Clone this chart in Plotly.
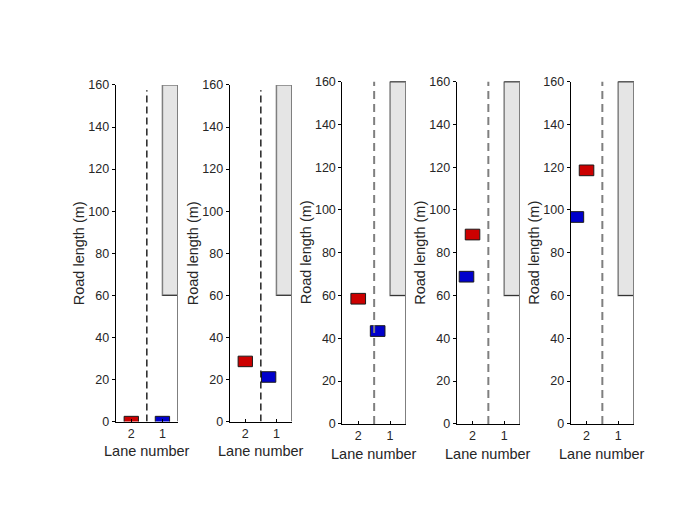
import plotly.graph_objects as go

# snapshots of the two cars, one panel per time step
red_lane = [2, 2, 2, 2, 2]
red_pos = [0, 28.6, 58.5, 88.5, 118.5]
blue_lane = [1, 1.25, 1.39, 2.19, 2.32]
blue_pos = [0, 21.2, 43.4, 68.8, 96.7]

lane_ticks = [2, 1]
lane_labels = ['2', '1']
road_ticks = [0, 20, 40, 60, 80, 100, 120, 140, 160]
block_start = 60
block_end = 160

car_w = 0.46
car_h = 5.0

W, H = 700, 525
# axes boxes in screen pixels: left, right, top, bottom
boxes = [(115.7, 178, 85.7, 421),
         (229.7, 292, 85.7, 421),
         (342.3, 406, 82.3, 423.3),
         (456.7, 520, 82.3, 423.3),
         (570.7, 634, 82.3, 423.3)]

# the page puts the figure a bit off the window origin, undo that
OFF_X, OFF_Y, SCALE_Y = 8.0, 16.0, 509.0 / 525.0


def px(x):
    return (x - OFF_X) / W


def py(y):
    return 1 - ((y - OFF_Y) / SCALE_Y) / H


txt = '#262626'
font = 'Liberation Sans, Arial, sans-serif'

fig = go.Figure()
shapes = []
annots = []

for k in range(5):
    n = '' if k == 0 else str(k + 1)
    xa, ya = 'x' + n, 'y' + n
    l, r, t, b = boxes[k]

    fig.update_layout({
        'xaxis' + n: dict(domain=[px(l), px(r)], range=[2.5, 0.5], anchor=ya,
                          tickvals=lane_ticks, ticktext=lane_labels,
                          showline=True, linecolor='black', linewidth=1,
                          ticks='inside', ticklen=3, tickcolor='black',
                          showgrid=False, zeroline=False, fixedrange=True,
                          tickfont=dict(size=12.5, color=txt, family=font)),
        'yaxis' + n: dict(domain=[py(b), py(t)], range=[0, 160], anchor=xa,
                          tickvals=road_ticks,
                          showline=True, linecolor='black', linewidth=1,
                          ticks='outside', ticklen=3, tickcolor='black',
                          showgrid=False, zeroline=False, fixedrange=True,
                          tickfont=dict(size=12.5, color=txt, family=font)),
    })

    # blocked part of lane 1
    shapes.append(dict(type='rect', xref=xa, yref=ya, x0=1, x1=0.5,
                       y0=block_start, y1=block_end, fillcolor='#e5e5e5',
                       line=dict(color='#7f7f7f', width=1.5), layer='below'))
    shapes.append(dict(type='line', xref=xa, yref=ya, x0=1, x1=0.5,
                       y0=block_start, y1=block_start, line=dict(color='#333333', width=1)))
    if k >= 2:
        shapes.append(dict(type='line', xref=xa, yref=ya, x0=1, x1=0.5,
                           y0=block_end, y1=block_end, line=dict(color='black', width=1.2)))
    # road edge
    shapes.append(dict(type='line', xref=xa, yref=ya, x0=0.5, x1=0.5, y0=0, y1=160,
                       line=dict(color='#7f7f7f', width=2)))
    # lane divider
    if k < 2:
        shapes.append(dict(type='line', xref=xa, yref=ya, x0=1.5, x1=1.5, y0=0, y1=157.5,
                           line=dict(color='black', width=1.3, dash='7px,4px')))
    else:
        shapes.append(dict(type='line', xref=xa, yref=ya, x0=1.5, x1=1.5, y0=0, y1=160,
                           line=dict(color='#7f7f7f', width=2, dash='8px,5px')))

    for lane, pos, col in [(red_lane[k], red_pos[k], '#cc0000'),
                           (blue_lane[k], blue_pos[k], '#0000cc')]:
        x0, x1 = lane - car_w / 2, lane + car_w / 2
        y0, y1 = pos - car_h / 2, pos + car_h / 2
        fig.add_trace(go.Scatter(x=[x0, x1, x1, x0, x0], y=[y0, y0, y1, y1, y0],
                                 xaxis=xa, yaxis=ya, mode='lines', fill='toself',
                                 fillcolor=col, line=dict(color='#1a1a1a', width=1),
                                 hoverinfo='skip', showlegend=False))

    annots.append(dict(text='Road length (m)', xref='paper', yref='paper',
                       x=px(l - 36.7), y=py((t + b) / 2), textangle=-90,
                       showarrow=False, xanchor='center', yanchor='middle',
                       font=dict(size=14.5, color=txt, family=font)))
    annots.append(dict(text='Lane number', xref='paper', yref='paper',
                       x=px((l + r) / 2), y=py(b + 29.5),
                       showarrow=False, xanchor='center', yanchor='middle',
                       font=dict(size=14.5, color=txt, family=font)))

fig.update_layout(width=W, height=H, margin=dict(l=0, r=0, t=0, b=0),
                  paper_bgcolor='white', plot_bgcolor='white',
                  shapes=shapes, annotations=annots, showlegend=False)

fig.write_html("out.html")
